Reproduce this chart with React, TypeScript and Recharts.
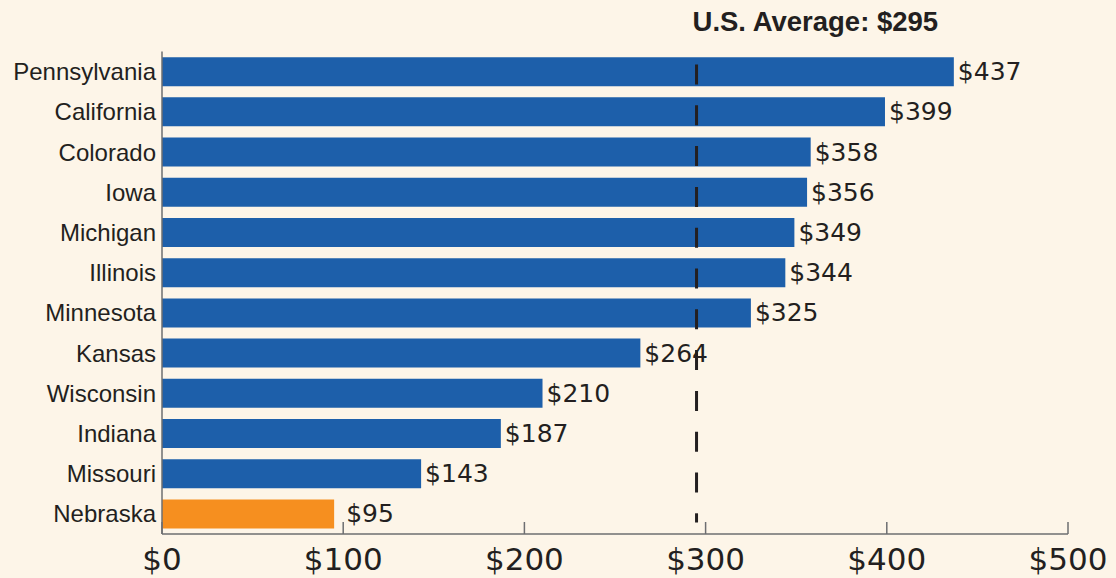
import React from 'react';
import { BarChart, Bar, XAxis, YAxis, Cell, LabelList, ReferenceLine } from 'recharts';

const states = ['Pennsylvania', 'California', 'Colorado', 'Iowa', 'Michigan', 'Illinois', 'Minnesota', 'Kansas', 'Wisconsin', 'Indiana', 'Missouri', 'Nebraska'];
const values = [437, 399, 358, 356, 349, 344, 325, 264, 210, 187, 143, 95];
const highlighted = ['Nebraska'];
const xTicks = [0, 100, 200, 300, 400, 500];
const usAverage = 295;
const averageLabel = 'U.S. Average: $295';

const data = states.map((s, i) => ({ state: s, value: values[i] }));

const BG = '#fdf5e8';
const BLUE = '#1d5faa';
const ORANGE = '#f68f1f';
const TEXT = '#231f20';
const AXIS = '#6d6e71';
const FONT = '"Liberation Sans", Arial, sans-serif';
const NUMFONT = '"DejaVu Sans", sans-serif';

const XTick = (props: any) => {
  const { x, y, payload } = props;
  return (
    <g>
      <line x1={x} x2={x} y1={y} y2={y - 12} stroke={AXIS} strokeWidth={1.5} />
      <text x={x} y={y + 36} textAnchor="middle" fontSize={31} fill={TEXT} fontFamily={NUMFONT}>
        {'$' + payload.value}
      </text>
    </g>
  );
};

const AvgLine = (props: any) => {
  const { x1, y1, y2 } = props;
  const top = y1 - 11.5;
  const bottom = y2 - 6;
  return (
    <g>
      <line x1={x1} x2={x1} y1={top} y2={bottom} stroke={TEXT} strokeWidth={3} strokeDasharray="20 20.8" strokeDashoffset={10.8} />
      <text x={x1 - 4} y={31} fontSize={27.5} fontWeight="bold" fill={TEXT} fontFamily={FONT}>
        {averageLabel}
      </text>
    </g>
  );
};

const BarValueLabel = (props: any) => {
  const { x, y, width, height, value, index } = props;
  const extra = highlighted.includes(states[index]) ? 12 : 4;
  return (
    <text
      x={x + width + extra}
      y={y + height / 2}
      dominantBaseline="central"
      fontSize={25}
      fill={TEXT}
      fontFamily={NUMFONT}
    >
      {'$' + value}
    </text>
  );
};

export default function App() {
  return (
    <div style={{ position: 'absolute', left: 0, top: 0, width: 1116, height: 578, background: BG, fontFamily: FONT }}>
      <BarChart
        width={1116}
        height={578}
        data={data}
        layout="vertical"
        margin={{ top: 51.5, right: 48, left: 0, bottom: 0 }}
        barCategoryGap="14%"
      >
        <XAxis
          type="number"
          dataKey="value"
          domain={[0, 500]}
          ticks={xTicks}
          height={44}
          tickSize={0}
          tickMargin={0}
          tickLine={false}
          axisLine={{ stroke: AXIS, strokeWidth: 1.5 }}
          tick={<XTick />}
          interval={0}
        />
        <YAxis
          type="category"
          dataKey="state"
          width={162}
          tickSize={0}
          tickMargin={6}
          tickLine={false}
          axisLine={{ stroke: AXIS, strokeWidth: 1.5 }}
          tick={{ fontSize: 24, fill: TEXT, fontFamily: FONT }}
          interval={0}
        />
        <Bar dataKey="value" isAnimationActive={false}>
          {data.map((d) => (
            <Cell key={d.state} fill={highlighted.includes(d.state) ? ORANGE : BLUE} />
          ))}
          <LabelList dataKey="value" content={<BarValueLabel />} />
        </Bar>
        <ReferenceLine x={usAverage} ifOverflow="visible" shape={<AvgLine />} />
      </BarChart>
    </div>
  );
}
